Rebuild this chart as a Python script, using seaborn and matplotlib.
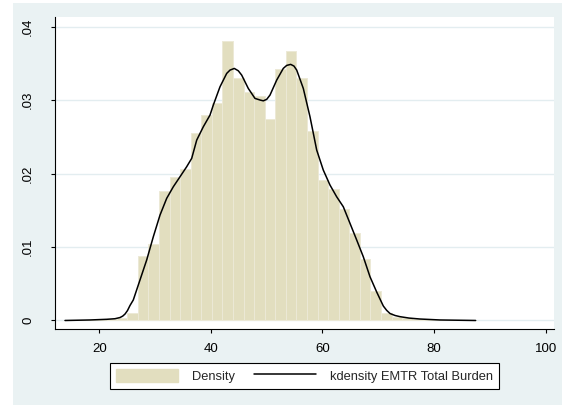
import numpy as np
import pandas as pd
import matplotlib
matplotlib.use("Agg")
import matplotlib.pyplot as plt
from matplotlib.patches import Patch, Rectangle
from matplotlib.lines import Line2D
import seaborn as sns

# ---- data ----
bin_start = 13.65
bin_stop = 87.55
n_bins = 39
bin_density = [
    0.0001, 0.0000, 0.0001, 0.0001, 0.0002, 0.0004,
    0.00106, 0.00882, 0.01045, 0.01758, 0.01952, 0.02060, 0.02547,
    0.02796, 0.02955, 0.03803, 0.03303, 0.03109, 0.03054, 0.02741,
    0.03422, 0.03667, 0.03303, 0.02578, 0.01912, 0.01789, 0.01517,
    0.01195, 0.00833, 0.00401, 0.00098,
    0.0005, 0.0003, 0.0002, 0.0001, 0.0001, 0.0000, 0.0001, 0.0001,
]
kde_x = [13.85, 18.33, 21.33, 22.81, 23.71, 24.20, 24.61, 25.05, 25.50, 26.09,
         27.29, 28.49, 29.68, 30.88, 32.08, 33.26, 34.46, 35.66, 36.56, 37.46,
         38.64, 39.84, 40.43, 41.63, 42.83, 43.42, 44.19, 44.91, 45.52, 46.70,
         47.90, 48.80, 49.39, 50.00, 50.59, 51.79, 52.97, 53.58, 54.30, 54.89,
         55.38, 56.56, 57.76, 58.96, 60.14, 61.34, 62.54, 63.73, 64.93, 66.13,
         67.31, 68.51, 69.71, 70.90, 71.50, 72.10, 73.00, 73.89, 75.50, 77.47,
         81.05, 87.45]
kde_y = [0.00000, 0.00007, 0.00016, 0.00024, 0.00040, 0.00060, 0.00088, 0.00135,
         0.00204, 0.00279, 0.00551, 0.00823, 0.01140, 0.01435, 0.01663, 0.01820,
         0.01956, 0.02093, 0.02207, 0.02456, 0.02637, 0.02796, 0.02932, 0.03181,
         0.03363, 0.03408, 0.03431, 0.03399, 0.03340, 0.03159, 0.03023, 0.03001,
         0.02990, 0.03010, 0.03068, 0.03272, 0.03431, 0.03472, 0.03486, 0.03463,
         0.03408, 0.03159, 0.02773, 0.02320, 0.02048, 0.01844, 0.01684, 0.01548,
         0.01322, 0.01095, 0.00868, 0.00596, 0.00388, 0.00197, 0.00138, 0.00095,
         0.00068, 0.00052, 0.00033, 0.00020, 0.00007, 0.00000]
x_ticks = [20, 40, 60, 80, 100]
y_ticks = [0, 0.01, 0.02, 0.03, 0.04]
y_tick_labels = ["0", ".01", ".02", ".03", ".04"]
hist_label = "Density"
kde_label = "kdensity EMTR Total Burden"

# ---- style ----
sns.set_theme(style="white")
plt.rcParams["font.family"] = ["Liberation Sans", "DejaVu Sans"]

bar_color = "#E2DEBF"
bar_edge = "#ECE9D6"
region_color = "#EAF2F3"
grid_color = "#E3EDF0"

edges = np.linspace(bin_start, bin_stop, n_bins + 1)
centers = (edges[:-1] + edges[1:]) / 2
hist_df = pd.DataFrame({"x": centers, "w": bin_density})
kde_df = pd.DataFrame({"x": kde_x, "y": kde_y})

fig = plt.figure(figsize=(5.62, 4.05), dpi=100, facecolor="white")
fig.patches.append(Rectangle((13 / 562, 0), 1 - 13 / 562, 1 - 3 / 405,
                             transform=fig.transFigure, facecolor=region_color,
                             edgecolor="none", zorder=-5))
ax = fig.add_axes([55 / 562, 1 - 329.3 / 405, (554 - 55) / 562, (329.3 - 17.3) / 405])
ax.set_zorder(2)
ax.set_facecolor("white")

for yv in y_ticks:
    ax.axhline(yv, color=grid_color, lw=1.0, zorder=0)

sns.histplot(data=hist_df, x="x", weights="w", bins=list(edges), stat="count",
             color=bar_color, alpha=1, edgecolor=bar_edge, linewidth=0.7, ax=ax, zorder=2)
sns.lineplot(data=kde_df, x="x", y="y", color="black", lw=1.1, ax=ax, zorder=3)
for ln in ax.lines:
    ln.set_solid_joinstyle("round")

ax.set_xlim(12.06, 101.49)
ax.set_ylim(-0.0012, 0.04127)
ax.set_xticks(x_ticks)
ax.set_xticklabels([str(v) for v in x_ticks])
ax.set_yticks(y_ticks)
ax.set_yticklabels(y_tick_labels, rotation=90, va="center")
ax.set_xlabel("")
ax.set_ylabel("")

for s in ["top", "right"]:
    ax.spines[s].set_visible(False)
for s in ["left", "bottom"]:
    ax.spines[s].set_color("black")
    ax.spines[s].set_linewidth(0.8)
ax.tick_params(axis="both", direction="out", length=3, width=0.8, color="black",
               labelsize=9.5, labelcolor="black", bottom=True, left=True)
ax.tick_params(axis="y", pad=12)
ax.tick_params(axis="x", pad=7)

handles = [Patch(facecolor=bar_color, edgecolor=bar_color, label=hist_label),
           Line2D([0], [0], color="black", lw=1.1, label=kde_label)]
leg = fig.legend(handles=handles, loc="center", bbox_to_anchor=(304.5 / 562, 1 - 376 / 405),
                 ncol=2, fontsize=9.3, frameon=True, fancybox=False, framealpha=1,
                 edgecolor="black", handlelength=4.8, handleheight=1.15,
                 handletextpad=1.08, columnspacing=1.47, borderpad=0.45)
leg.get_frame().set_linewidth(0.8)

fig.savefig("out.png", dpi=100, facecolor="white")
